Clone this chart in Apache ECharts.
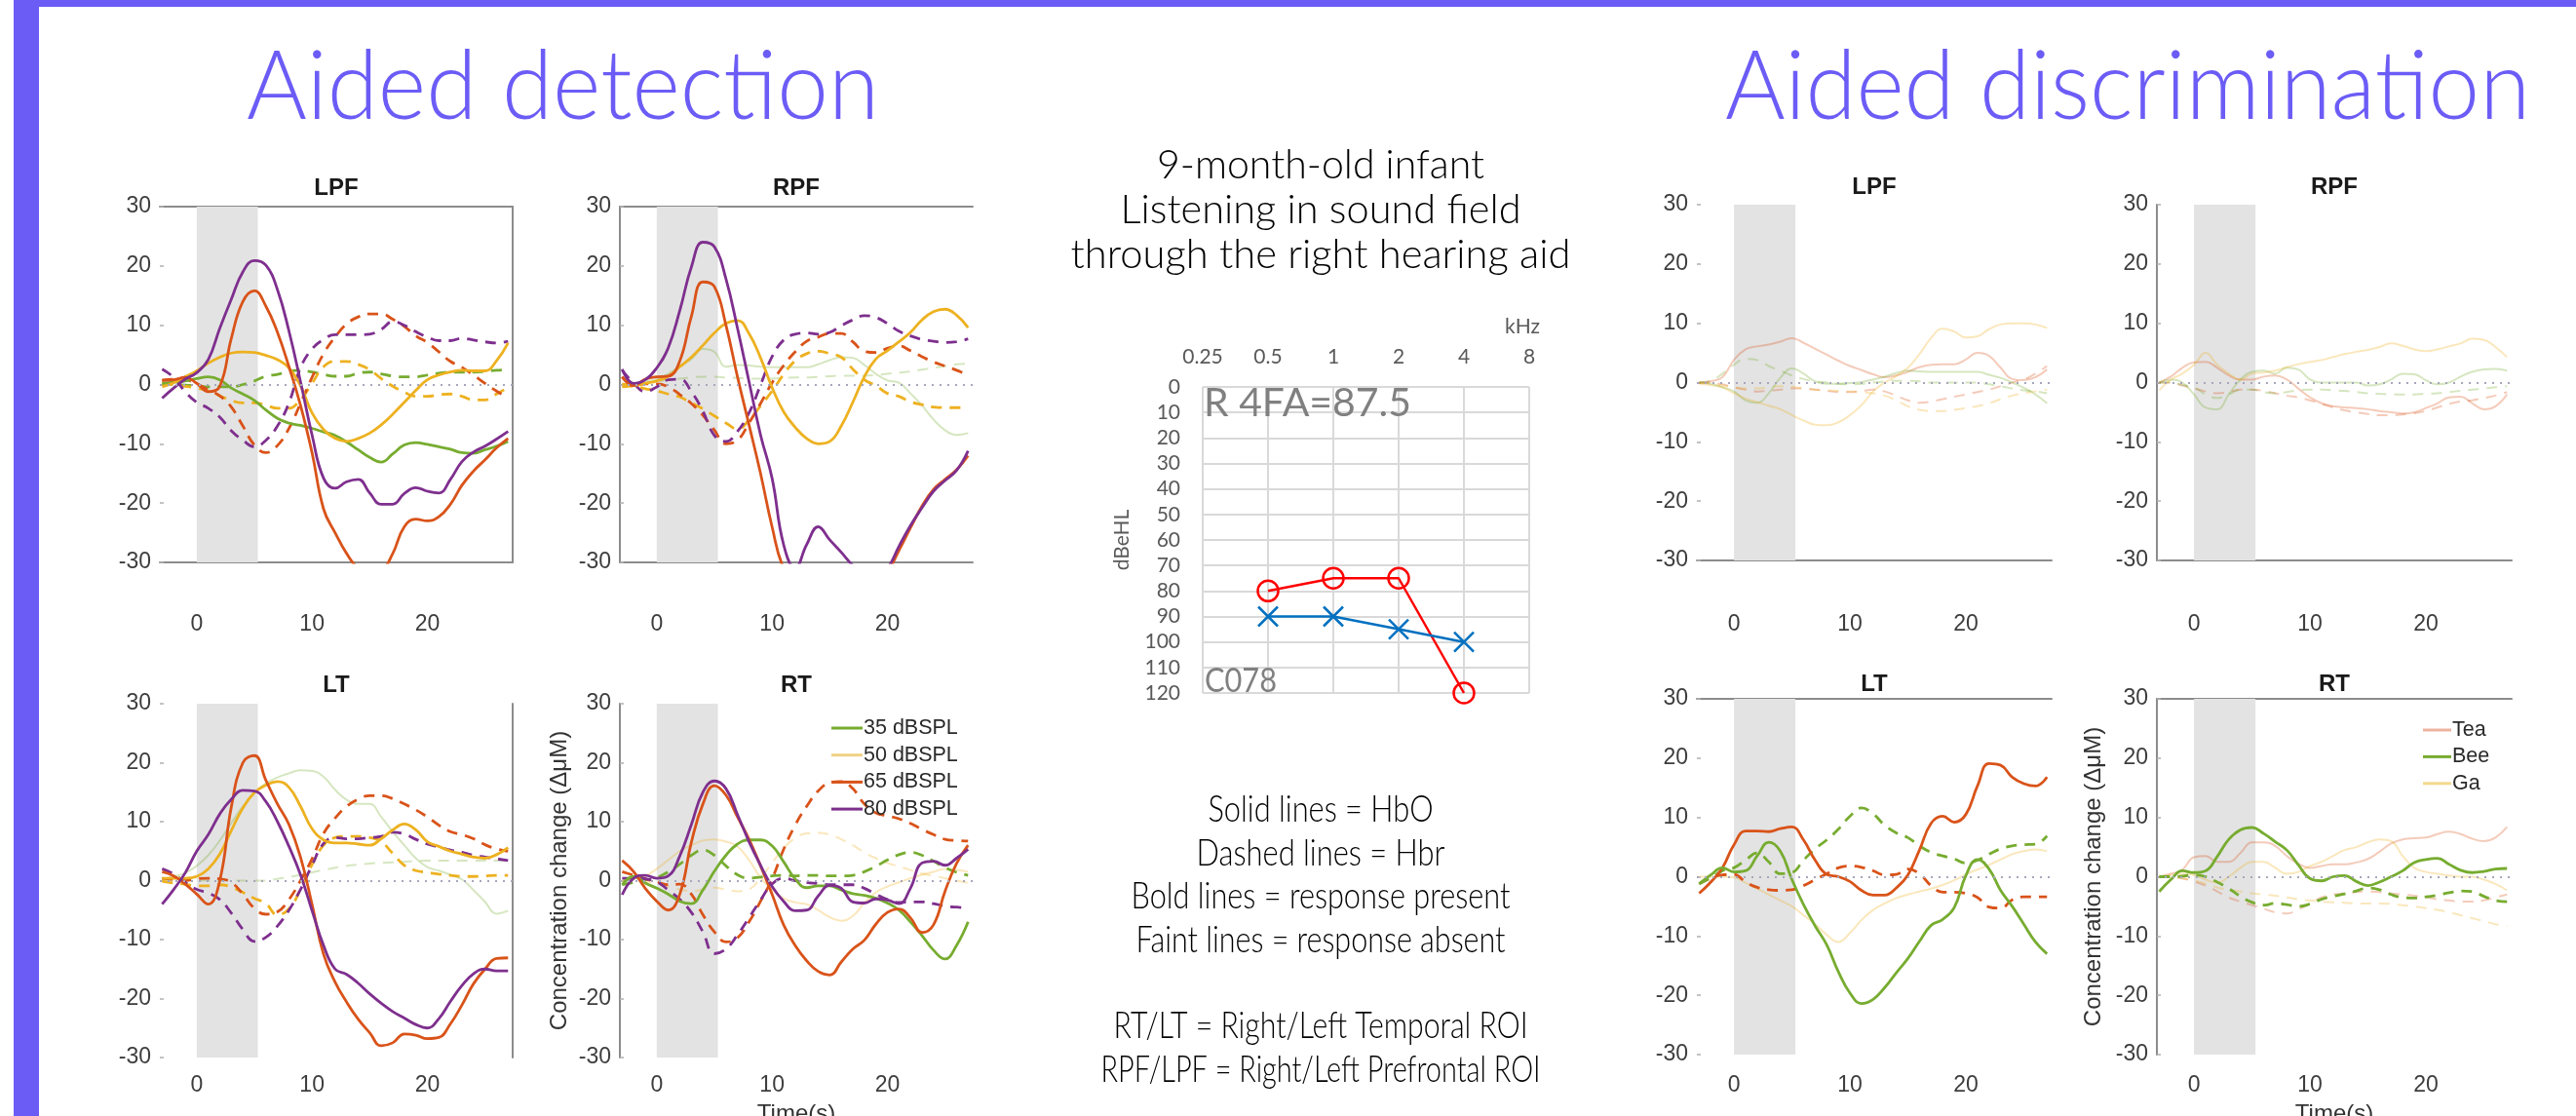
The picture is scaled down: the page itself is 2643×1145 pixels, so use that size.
<!DOCTYPE html>
<html>
<head>
<meta charset="utf-8">
<script src="https://cdn.jsdelivr.net/npm/echarts@6/dist/echarts.min.js"></script>
<style>
  html, body { margin: 0; padding: 0; background: #ffffff; }
  #chart { width: 2643px; height: 1145px; }
</style>
</head>
<body>
<div id="chart"></div>
<script>
// ---------- time base (s) and stimulus window ----------
const TIME = [-3,-2,-1,0,1,2,3,4,5,6,7,8,9,10,11,12,13,14,15,16,17,18,19,20,21,22,23,24,25,26,27];
const STIM = [0, 5.3];
const X_TICKS = [0, 10, 20];

// ---------- Aided detection: HbO (solid) / HbR (dashed), per level ----------
const D_LPF_35_HBO = [0.2,0.4,0.6,1,1.3,0.8,-0.6,-1.6,-2.7,-4.3,-5.7,-6.5,-6.9,-7.4,-8,-8.6,-9.7,-11,-12.3,-13.1,-11.7,-10.2,-9.8,-10.1,-10.5,-10.9,-11.5,-11.6,-11,-10.4,-9.6];
const D_LPF_50_HBO = [-0.4,0.3,1.3,2.3,3.6,4.6,5.3,5.5,5.4,4.9,4.2,2.8,-0.2,-4.8,-7.6,-9.1,-9.6,-9.1,-8.2,-6.8,-5,-3,-1,0.8,1.6,2.1,2.4,2.3,2.3,4,7];
const D_LPF_65_HBO = [0.7,0.8,1.2,0.2,-1.2,-0.3,7.8,14,15.8,13.2,8.8,3,-3.5,-11.5,-21,-25,-28.5,-31,-32,-31.5,-28.5,-24,-22.7,-23,-22.3,-20.2,-17,-14.6,-12.7,-10.7,-9.1];
const D_LPF_80_HBO = [-2.3,-0.6,0.9,2,4.2,9.5,14.4,19,20.9,20.1,16,9,0.5,-8.5,-15.8,-17.5,-16.4,-16,-18.3,-20.2,-20.2,-18.4,-17.4,-18,-18.3,-16,-13,-11.4,-10.4,-9.2,-7.9];
const D_LPF_35_HBR = [0.1,0,-0.1,-0.2,-0.4,-0.4,-0.4,0,0.6,1.4,1.7,2.2,2.4,2.1,1.7,1.4,1.4,1.9,2.1,1.8,1.4,1.3,1.3,1.6,1.9,2.1,2.1,2.1,2.2,2.4,2.5];
const D_LPF_50_HBR = [0.2,0,-0.3,-0.6,-1.1,-1.9,-2.7,-3.1,-3.1,-3.5,-4,-4,-2.5,0.2,3,3.9,3.9,3.4,2.5,1,-0.3,-1.3,-2,-2,-1.7,-1.6,-2,-2.6,-2.6,-1.6,-0.5];
const D_LPF_65_HBR = [0.7,0.9,0.8,0.1,-0.9,-1.9,-3.8,-7,-10.2,-11.5,-10.3,-7.4,-3.2,1.2,5.2,8,10.2,11.4,11.9,11.9,11,9.8,8.2,7.1,5.5,3.9,2.9,1.6,0.2,-1.1,-2.2];
const D_LPF_80_HBR = [2.6,1.2,-1.2,-3,-4,-5.5,-7.8,-9.4,-10.5,-9.4,-7,-3.1,2.8,6,7.6,8.4,8.4,8.4,8.5,9.3,10.6,10,8.9,8,7.4,7.4,7.8,7.5,7.2,7,7.3];

const D_RPF_35_HBO = [0,0.2,0.5,0.9,1.8,3.1,4.3,6,5.5,3,3.3,3.2,3,2.9,2.9,2.9,2.9,3.4,4.1,4.6,4.5,3.3,1.8,0.7,0.3,-1.5,-3.5,-5.9,-7.7,-8.5,-8.2];
const D_RPF_50_HBO = [-0.4,-0.2,0.2,0.6,1.4,3,4.6,6.6,8.7,10.3,10.8,8.6,4.5,-0.5,-4.6,-7.2,-9.1,-10,-9.6,-7,-3,1.3,4.3,5.7,7.2,8.8,10.9,12.3,12.7,11.7,9.6];
const D_RPF_65_HBO = [1.3,-0.2,0.9,1.3,1.4,4,11.5,17.3,16.5,10,1.3,-6.8,-15,-24,-31,-33,-33,-33,-33,-33,-33,-33,-33,-31.5,-28,-24.2,-20.5,-17.7,-16,-14.4,-12];
const D_RPF_80_HBO = [2.6,0.2,0.8,2.8,6.2,12.5,19.8,24,23.2,17.8,9.5,0.5,-8.5,-15.8,-27,-31,-27,-24,-26.2,-28.3,-30.5,-32,-32.5,-31,-27.3,-23.8,-20.8,-18,-16.2,-14.5,-11.2];
const D_RPF_35_HBR = [0,0,0.2,0.5,0.8,1,1.2,1.3,1.3,1.2,1.1,1,1,1,1.1,1.2,1.2,1.3,1.4,1.5,1.5,1.5,1.6,1.8,2,2.2,2.5,2.8,3.1,3.4,3.5];
const D_RPF_50_HBR = [0.1,-0.3,-0.7,-1.1,-1.6,-2.1,-3.1,-4.1,-5.3,-6.5,-7.5,-6,-3.6,-1.1,1.7,4,5.2,5.6,5.2,4.6,2.6,0.8,-0.2,-1.5,-2,-2.9,-3.4,-3.8,-3.9,-3.9,-3.9];
const D_RPF_65_HBR = [1.3,-0.1,0.1,0.1,-0.4,-1.7,-3.2,-5.2,-7.7,-10,-9.4,-6.5,-3.2,0.3,3.2,5.5,7.3,8,8.6,8.6,7.2,5.6,5.4,6.1,6.5,5.7,4.7,3.8,3.1,2.4,1.6];
const D_RPF_80_HBR = [2.4,0.2,-1.2,-0.4,0.8,0.9,-1.2,-4.5,-8.6,-9.6,-7.9,-4.8,-0.1,4.7,7.5,8.5,8.7,8.5,8.8,9.9,10.9,11.6,11.3,10.3,9,8.2,7.6,7.3,7.1,7.2,7.7];

const D_LT_35_HBO = [0.2,0.7,1.3,2.5,4.3,6.8,9.8,12.6,14.9,16.5,17.5,18.2,18.7,18.6,17.6,15.4,13.7,13,13,10.8,8.3,6,3.8,2.3,1.7,1,0.2,-1.6,-3.6,-5.6,-5.1];
const D_LT_50_HBO = [0.4,0.4,0.4,0.7,2,4.5,8.5,12.3,14.9,16.2,16.8,15.8,12.6,8.8,6.9,6.4,6.4,6.2,6,7.1,8.6,9.6,8.6,6.6,5.8,5,4.5,4,3.8,4.4,5.6];
const D_LT_65_HBO = [1.5,0.8,-0.6,-2.3,-4,0,12.5,20,21.2,17,13,9.5,4,-4,-12.5,-17.2,-20.6,-23.5,-25.8,-28,-27.5,-26,-26.2,-26.8,-26.6,-24.3,-21.1,-17.5,-15,-13.2,-13.1];
const D_LT_80_HBO = [-4,-1.5,1.3,5,7.8,11.3,13.8,15.3,15.2,13.4,10,5.8,1,-5.1,-11,-15,-15.9,-17.4,-19.2,-20.8,-22.2,-23.3,-24.4,-25,-23.4,-20.5,-17.8,-15.8,-15,-15.3,-15.3];
const D_LT_35_HBR = [0,0,0,0,0,0,0,0,0,0,0.3,0.6,1,1.4,1.8,2.2,2.5,2.7,2.9,3,3.1,3.2,3.3,3.4,3.4,3.4,3.4,3.4,3.4,3.4,3.4];
const D_LT_50_HBR = [-0.1,-0.4,-0.6,-0.9,-0.9,-0.7,-1.1,-2,-3,-3.9,-5.8,-4.8,-1.5,2.7,6,7.3,7.5,7.5,7.3,6.6,4.6,2.6,1.7,1.4,1.1,0.9,0.7,0.7,0.8,0.9,0.9];
const D_LT_65_HBR = [0.4,0.2,0,0.3,0.4,0.3,-0.3,-2.3,-4.7,-5.7,-5.3,-3.2,0,3.7,8,10.6,12.6,13.8,14.4,14.4,13.9,13,12,10.8,9.4,8.3,7.8,7.1,6.1,5.4,5];
const D_LT_80_HBR = [2,1.1,-0.3,-1.5,-2.1,-3.2,-5.5,-8.3,-10.3,-9.6,-7.7,-5,-1.5,2.6,6.3,7.3,7.1,7.1,7.3,7.5,8.2,7.9,7,6.2,5.7,5.2,4.8,4.3,4,3.7,3.4];

const D_RT_35_HBO = [-0.7,0.7,-0.4,-1.3,-2.3,-3.5,-3.9,-1.6,1.6,4.3,6.2,6.9,6.9,5.9,3.2,0.3,-1.2,-0.9,-0.9,-1.6,-2.2,-2.5,-3,-3.8,-5,-7,-9.3,-11.8,-13.3,-11,-7];
const D_RT_50_HBO = [0,0.3,0.8,2,3.5,5,6,6.8,7,6.6,5.8,3.5,0.5,-1.5,-3,-3.7,-4,-5,-6.2,-6.8,-6,-3.8,-2,-1,-0.3,0.4,1,1.5,2,1.8,1.5];
const D_RT_65_HBO = [3.4,1.5,-1.3,-3.5,-5,-2.3,6.5,13,16.1,14.5,10.8,7,2.5,-2.3,-7.5,-11,-13.6,-15.4,-16,-13.8,-11.6,-10.1,-7.4,-5.4,-4.8,-6.3,-8.8,-7.5,-1.8,2.9,6];
const D_RT_80_HBO = [-2.4,0.4,0.9,0.4,0.8,4.2,9.5,15,16.9,15.6,11.2,6.6,2.6,-1,-3.5,-5.1,-5,-2.6,-0.8,-1.3,-3.6,-3.8,-3.1,-3.3,-3.9,-1.3,3,3.3,2.6,3.8,5.3];
const D_RT_35_HBR = [-0.7,-0.3,0.1,0.5,1.5,2.8,4.3,5.2,4.3,2.5,1,0.4,0.6,0.8,0.9,0.8,0.9,0.9,0.8,0.8,0.9,1.5,2.4,3.5,4.4,4.8,4.3,3.3,2.2,1.4,0.9];
const D_RT_50_HBR = [0,0,-0.2,-0.5,-1,-1.5,-1.8,-1.5,-1.2,-1.5,-1.8,-1.5,0.5,3,5.5,7.2,8,8.1,7.8,7,6,4.8,3.8,3,2.4,1.8,1.2,0.8,0.4,0,-0.4];
const D_RT_65_HBR = [1.5,0.9,0.3,-0.2,-0.7,-0.6,-2.3,-5.8,-8.7,-10.4,-9.7,-7,-3.5,0.3,5.3,9.4,12.6,15.2,16.6,16.8,15.6,13,11.5,11,10.5,9.7,8.7,7.8,7,6.8,6.7];
const D_RT_80_HBR = [0.4,0.4,0.3,-0.2,-1.6,-3.2,-5.4,-8.7,-12.4,-11.6,-9.2,-6.3,-3.3,-0.6,0.4,0,-0.3,-0.5,-0.7,-0.7,-0.7,-1.3,-2.3,-3.2,-3.7,-3.6,-3.6,-3.9,-4.3,-4.5,-4.6];

// ---------- Aided discrimination: HbO / HbR per syllable ----------
const C_LPF_TEA_HBO = [0,0.2,0.9,3.8,5.6,6.1,6.4,6.9,7.5,6.7,5.7,4.7,3.7,2.8,2.1,1.4,0.9,1.2,1.8,2.6,3,3.1,3.1,3.9,5,4.5,2.5,0.6,0.4,0.9,2.2];
const C_LPF_BEE_HBO = [0,-0.2,-0.8,-1.5,-3,-3.4,-1.8,0.8,2.4,1.5,0.2,-0.2,-0.2,-0.1,0.1,0.5,1,1.6,2,1.9,1.8,1.8,1.8,1.8,1.8,1.3,0.8,0,-0.9,-2,-3.5];
const C_LPF_GA_HBO  = [-0.2,-0.4,-0.8,-1.8,-2.7,-3.3,-3.9,-4.5,-5.5,-6.4,-7.1,-7.2,-6.7,-5.5,-3.8,-1.5,0,1.1,2.5,4.8,7.5,9.1,8.6,7.6,7.8,9,9.8,10,10,9.8,9.2];
const C_LPF_TEA_HBR = [0,0,-0.3,-0.8,-1.2,-1.5,-1.4,-1.2,-1,-1,-1.2,-1.4,-1.6,-1.6,-1.4,-1.2,-1.5,-2.2,-3,-3.4,-3.2,-2.8,-2.4,-2,-1.6,-1.2,-0.6,0,0.5,1.5,2.8];
const C_LPF_BEE_HBR = [0,0.3,1.5,3,4,3.8,2.8,2,1.2,0.6,0.2,0,-0.2,-0.3,-0.2,0,0.2,0.3,0.3,0.2,0,0,0,0,0,-0.3,-0.6,-1,-1.3,-1.5,-1.8];
const C_LPF_GA_HBR  = [0,-0.2,-0.5,-0.8,-1,-1,-0.8,-0.6,-0.7,-1,-1.2,-1.3,-1.4,-1.5,-1.6,-1.8,-2.2,-3,-4,-4.6,-4.8,-4.8,-4.6,-4.3,-4,-3.5,-2.8,-2.2,-1.8,-1.5,-1.2];

const C_RPF_TEA_HBO = [0,1,2.5,3.4,3.5,2.5,1.2,0.5,0.5,1,1.2,0.5,-1,-2.5,-3.5,-4,-4.2,-4.3,-4.5,-4.8,-5,-5.2,-5,-4.3,-3.5,-2.5,-2.4,-3.5,-4.5,-4,-2];
const C_RPF_BEE_HBO = [0,0.5,0,-2,-4.2,-4.5,-2,0.5,1.8,2,1.5,2.5,2.2,0.5,0,0,0,0,-0.5,-0.3,0.5,1.5,1.4,0.4,-0.3,0,1,1.8,2.2,2.3,2];
const C_RPF_GA_HBO  = [-1.3,0.5,1.5,3,5,3,1.5,0.5,1.5,1.7,2,2.6,3.1,3.5,3.8,4.3,4.8,5.2,5.5,6,6.6,6.2,5.6,5.3,5.6,6.1,6.6,7.4,7.2,6,4.3];
const C_RPF_TEA_HBR = [0,0,-0.5,-1,-1.5,-1.8,-1.6,-1.2,-1.2,-1.4,-1.8,-2.2,-2.5,-3,-3.6,-4.2,-4.7,-5,-5.3,-5.5,-5.5,-5.4,-5.2,-4.8,-4.2,-3.6,-3.2,-3,-2.6,-2.2,-1.6];
const C_RPF_BEE_HBR = [0,0,-0.4,-0.8,-2,-2.6,-2,-1.2,-1.2,-1.6,-1.8,-1.6,-1.3,-1.2,-1.2,-1.3,-1.4,-1.6,-1.8,-1.9,-2,-2,-2,-1.9,-1.8,-1.6,-1.4,-1.2,-1,-0.8,-0.6];

const C_LT_TEA_HBO = [-2.8,-0.9,1.5,5.4,7.7,7.7,7.6,8.1,8.4,6.2,2.8,0.4,0,-0.8,-2.3,-3.1,-3.1,-1.9,0.3,4.5,9,10.2,9.2,10.5,15.3,19.1,18.8,16.8,15.7,15.3,16.8];
const C_LT_BEE_HBO = [-1.2,0.3,1.5,0.8,1,3.5,5.8,4.3,-0.5,-4.7,-8.3,-11.5,-16,-19.6,-21.4,-20.7,-18.7,-16.2,-13.8,-10.9,-8.2,-7.2,-5.2,0.2,2.9,1.3,-2.3,-5,-8,-11,-13];
const C_LT_GA_HBO  = [0,0,0,-0.1,-1,-2,-3,-4,-5,-6.5,-8,-9.8,-11,-9.5,-7.3,-5.6,-4.5,-3.6,-3,-2.5,-2,-1.4,-0.6,0.4,1.2,2,2.9,3.8,4.3,4.6,4.3];
const C_LT_TEA_HBR = [-1.2,-0.2,0.3,0.4,-0.9,-1.8,-2.2,-2.3,-2.2,-1.5,-0.5,0.5,1.5,1.8,1.6,1,0.3,0.4,1.3,0.5,-1.5,-2.6,-2.6,-2.8,-3.5,-5.1,-5.3,-3.9,-3.4,-3.4,-3.4];
const C_LT_BEE_HBR = [-1.2,-0.2,1,1.5,2.8,4,2.5,0.5,0.7,2.8,4.7,6.2,8,10.2,11.6,10.6,8.7,7.4,6.6,5.2,4.1,3.5,3,2.3,2.8,3.8,4.7,5.2,5.4,5.5,6.9];

const C_RT_TEA_HBO = [0,0.5,1.2,3.3,3.5,2.5,2.5,4,5.8,5.8,5.2,3.5,2.2,1.5,1.8,2.1,2.1,2.4,3,4.2,5.6,6.3,6.5,6.6,7.2,7.6,7.2,6.4,6,6.6,8.4];
const C_RT_BEE_HBO = [-2.5,-0.5,1,0.7,1,3.4,6.3,7.9,8.3,7.3,5.9,4.5,2,-0.3,-0.7,0,0.2,-0.8,-1.5,-0.9,0,1,2.4,2.9,3.1,2.1,1.1,0.7,0.9,1.3,1.4];
const C_RT_GA_HBO  = [0,0.3,0.5,0.3,-0.5,-1,0,1.5,2.5,2.5,1.5,0.5,0.8,1.8,2.5,3.5,4.5,5,5.8,6.3,6,3.5,1.5,0.8,0.5,0.2,0,0,-0.5,-1.2,-2.3];
const C_RT_TEA_HBR = [0,0,-0.3,-0.8,-1.5,-2.5,-3.5,-4.2,-4.8,-5.4,-6,-6.2,-5.5,-4.5,-3.5,-3,-2.8,-2.6,-2.5,-2.6,-2.8,-3,-3.2,-3.5,-3.8,-4,-4.2,-4.2,-4,-3.5,-3];
const C_RT_BEE_HBR = [0,0,0.1,0.3,0,-0.9,-2,-3.3,-4.3,-4.8,-4.5,-4.7,-5,-4.6,-3.8,-3.3,-2.9,-2.4,-1.9,-2.2,-3,-3.5,-3.6,-3.4,-3.1,-2.7,-2.4,-2.5,-3.3,-4,-4.2];
const C_RT_GA_HBR  = [0,0,-0.3,-0.6,-1.2,-1.8,-2.2,-2.5,-2.8,-3,-3.2,-3.5,-3.8,-4,-4.2,-4.3,-4.4,-4.5,-4.5,-4.5,-4.6,-4.8,-5,-5.3,-5.6,-6,-6.5,-7,-7.5,-8,-8.3];

// ---------- audiogram ----------
const AUD_FREQ  = [0.5, 1, 2, 4];      // kHz
const AUD_RIGHT = [80, 75, 75, 120];   // dB eHL, right ear (O)
const AUD_LEFT  = [90, 90, 95, 100];   // dB eHL, left ear (X)

// ---------- text ----------
const HEADINGS = ['Aided detection', 'Aided discrimination'];
const INFO_LINES = ['9-month-old infant', 'Listening in sound field', 'through the right hearing aid'];
const KEY_LINES = ['Solid lines = HbO', 'Dashed lines = Hbr', 'Bold lines = response present',
                   'Faint lines = response absent', 'RT/LT = Right/Left Temporal ROI',
                   'RPF/LPF = Right/Left Prefrontal ROI'];
const DET_LEVELS = ['35 dBSPL', '50 dBSPL', '65 dBSPL', '80 dBSPL'];
const SYLLABLES = ['Tea', 'Bee', 'Ga'];

// ---------- styling ----------
const GREEN = '#77AC30', YELLOW = '#EDB120', ORANGE = '#D95319', PURPLE = '#7E2F8E';
const ACCENT = '#6c5cf6';
const AXIS_FONT = 'Liberation Sans';
const LIGHT_FONT = 'Lato';

function L(values, color, name, dashed, faint) {
  return { values, color, name, dashed: !!dashed, faint: !!faint };
}

const PANELS = [
  { title: 'LPF', left: 164, top: 212, width: 362, height: 365, titleY: 193, edges: ['top', 'right', 'bottom'], xMargin: 52,
    lines: [
      L(D_LPF_35_HBR, GREEN, DET_LEVELS[0], true), L(D_LPF_50_HBR, YELLOW, DET_LEVELS[1], true),
      L(D_LPF_65_HBR, ORANGE, DET_LEVELS[2], true), L(D_LPF_80_HBR, PURPLE, DET_LEVELS[3], true),
      L(D_LPF_35_HBO, GREEN, DET_LEVELS[0]), L(D_LPF_50_HBO, YELLOW, DET_LEVELS[1]),
      L(D_LPF_65_HBO, ORANGE, DET_LEVELS[2]), L(D_LPF_80_HBO, PURPLE, DET_LEVELS[3])
    ] },
  { title: 'RPF', left: 636, top: 212, width: 362, height: 365, titleY: 193, edges: ['left', 'top', 'bottom'], xMargin: 52,
    lines: [
      L(D_RPF_35_HBR, GREEN, DET_LEVELS[0], true, true), L(D_RPF_35_HBO, GREEN, DET_LEVELS[0], false, true),
      L(D_RPF_50_HBR, YELLOW, DET_LEVELS[1], true), L(D_RPF_65_HBR, ORANGE, DET_LEVELS[2], true),
      L(D_RPF_80_HBR, PURPLE, DET_LEVELS[3], true),
      L(D_RPF_50_HBO, YELLOW, DET_LEVELS[1]), L(D_RPF_65_HBO, ORANGE, DET_LEVELS[2]), L(D_RPF_80_HBO, PURPLE, DET_LEVELS[3])
    ] },
  { title: 'LT', left: 164, top: 722, width: 362, height: 363, titleY: 703, edges: ['right'], xMargin: 17,
    lines: [
      L(D_LT_35_HBR, GREEN, DET_LEVELS[0], true, true), L(D_LT_35_HBO, GREEN, DET_LEVELS[0], false, true),
      L(D_LT_50_HBR, YELLOW, DET_LEVELS[1], true), L(D_LT_65_HBR, ORANGE, DET_LEVELS[2], true),
      L(D_LT_80_HBR, PURPLE, DET_LEVELS[3], true),
      L(D_LT_50_HBO, YELLOW, DET_LEVELS[1]), L(D_LT_65_HBO, ORANGE, DET_LEVELS[2]), L(D_LT_80_HBO, PURPLE, DET_LEVELS[3])
    ] },
  { title: 'RT', left: 636, top: 722, width: 362, height: 363, titleY: 703, edges: ['left'], xMargin: 17,
    yName: 'Concentration change (\u0394\u03bcM)', yNameGap: 50, xName: 'Time(s)', xNameGap: 46,
    legend: { names: DET_LEVELS, colors: [GREEN, '#f1d185', ORANGE, PURPLE], x: 853, y: 747, lineW: 32, step: 27.7 },
    lines: [
      L(D_RT_50_HBR, YELLOW, DET_LEVELS[1], true, true), L(D_RT_50_HBO, YELLOW, DET_LEVELS[1], false, true),
      L(D_RT_35_HBR, GREEN, DET_LEVELS[0], true), L(D_RT_65_HBR, ORANGE, DET_LEVELS[2], true),
      L(D_RT_80_HBR, PURPLE, DET_LEVELS[3], true),
      L(D_RT_35_HBO, GREEN, DET_LEVELS[0]), L(D_RT_65_HBO, ORANGE, DET_LEVELS[2]), L(D_RT_80_HBO, PURPLE, DET_LEVELS[3])
    ] },
  { title: 'LPF', left: 1741, top: 210, width: 364, height: 365, titleY: 192, edges: ['bottom'], xMargin: 54,
    lines: [
      L(C_LPF_TEA_HBR, ORANGE, SYLLABLES[0], true, true), L(C_LPF_BEE_HBR, GREEN, SYLLABLES[1], true, true),
      L(C_LPF_GA_HBR, YELLOW, SYLLABLES[2], true, true),
      L(C_LPF_TEA_HBO, ORANGE, SYLLABLES[0], false, true), L(C_LPF_BEE_HBO, GREEN, SYLLABLES[1], false, true),
      L(C_LPF_GA_HBO, YELLOW, SYLLABLES[2], false, true)
    ] },
  { title: 'RPF', left: 2213, top: 210, width: 364, height: 365, titleY: 192, edges: ['left', 'bottom'], xMargin: 54,
    lines: [
      L(C_RPF_TEA_HBR, ORANGE, SYLLABLES[0], true, true), L(C_RPF_BEE_HBR, GREEN, SYLLABLES[1], true, true),
      L(C_RPF_TEA_HBO, ORANGE, SYLLABLES[0], false, true), L(C_RPF_BEE_HBO, GREEN, SYLLABLES[1], false, true),
      L(C_RPF_GA_HBO, YELLOW, SYLLABLES[2], false, true)
    ] },
  { title: 'LT', left: 1741, top: 717, width: 364, height: 365, titleY: 702, edges: ['top'], xMargin: 20,
    lines: [
      L(C_LT_GA_HBO, YELLOW, SYLLABLES[2], false, true),
      L(C_LT_TEA_HBR, ORANGE, SYLLABLES[0], true), L(C_LT_BEE_HBR, GREEN, SYLLABLES[1], true),
      L(C_LT_TEA_HBO, ORANGE, SYLLABLES[0]), L(C_LT_BEE_HBO, GREEN, SYLLABLES[1])
    ] },
  { title: 'RT', left: 2213, top: 717, width: 364, height: 365, titleY: 702, edges: ['left', 'top'], xMargin: 20,
    yName: 'Concentration change (\u0394\u03bcM)', yNameGap: 53, xName: 'Time(s)', xNameGap: 49,
    legend: { names: SYLLABLES, colors: ['#efb4a0', GREEN, '#f3d98e'], x: 2486, y: 749, lineW: 29, step: 27.4 },
    lines: [
      L(C_RT_TEA_HBR, ORANGE, SYLLABLES[0], true, true), L(C_RT_GA_HBR, YELLOW, SYLLABLES[2], true, true),
      L(C_RT_TEA_HBO, ORANGE, SYLLABLES[0], false, true), L(C_RT_GA_HBO, YELLOW, SYLLABLES[2], false, true),
      L(C_RT_BEE_HBR, GREEN, SYLLABLES[1], true), L(C_RT_BEE_HBO, GREEN, SYLLABLES[1])
    ] }
];

const X_MIN = -3.2, X_MAX = 27.4;
const EDGE = { color: '#8c8c8c', width: 2 };
const LABEL_COLOR = '#3d3d3d';

const grids = [], xAxes = [], yAxes = [], series = [];

PANELS.forEach((p, i) => {
  grids.push({ left: p.left, top: p.top, width: p.width, height: p.height, containLabel: false, outerBoundsMode: 'none' });
  const has = e => p.edges.indexOf(e) >= 0;
  xAxes.push({
    gridIndex: i, type: 'value', min: X_MIN, max: X_MAX, position: 'bottom',
    axisLine: { show: has('bottom'), onZero: false, lineStyle: EDGE },
    axisTick: { show: false }, splitLine: { show: false },
    axisLabel: { customValues: X_TICKS, fontSize: 23, color: LABEL_COLOR, fontFamily: AXIS_FONT, margin: p.xMargin },
    name: p.xName || '', nameLocation: 'middle', nameGap: p.xNameGap || 0,
    nameTextStyle: { fontSize: 24, color: '#333', fontFamily: AXIS_FONT }
  });
  xAxes.push({
    gridIndex: i, type: 'value', min: X_MIN, max: X_MAX, position: 'top',
    axisLine: { show: has('top'), onZero: false, lineStyle: EDGE },
    axisTick: { show: false }, splitLine: { show: false }, axisLabel: { show: false }
  });
  yAxes.push({
    gridIndex: i, type: 'value', min: -30, max: 30, interval: 10, position: 'left',
    axisLine: { show: has('left'), onZero: false, lineStyle: EDGE },
    axisTick: { show: true, inside: true, length: 4, lineStyle: { color: '#b0b0b0', width: 1.5 } },
    splitLine: { show: false },
    axisLabel: { fontSize: 23, color: LABEL_COLOR, fontFamily: AXIS_FONT, margin: 9 },
    name: p.yName || '', nameLocation: 'middle', nameGap: p.yNameGap || 0, nameRotate: 90,
    nameTextStyle: { fontSize: 24, color: '#333', fontFamily: AXIS_FONT }
  });
  yAxes.push({
    gridIndex: i, type: 'value', min: -30, max: 30, interval: 10, position: 'right',
    axisLine: { show: has('right'), onZero: false, lineStyle: EDGE },
    axisTick: { show: false }, splitLine: { show: false }, axisLabel: { show: false }
  });

  // stimulus window and zero reference
  series.push({
    type: 'line', xAxisIndex: 2 * i, yAxisIndex: 2 * i, data: [], silent: true, z: 1, animation: false,
    markArea: { silent: true, itemStyle: { color: '#e3e3e3' }, data: [[{ xAxis: STIM[0] }, { xAxis: STIM[1] }]] },
    markLine: { silent: true, symbol: ['none', 'none'], label: { show: false },
      lineStyle: { color: '#a7a7bb', width: 2, type: [2, 6] }, data: [{ yAxis: 0 }] }
  });

  p.lines.forEach(ln => {
    series.push({
      type: 'line', name: ln.name, xAxisIndex: 2 * i, yAxisIndex: 2 * i,
      data: TIME.map((t, k) => [t, ln.values[k]]),
      smooth: 0.45, symbol: 'none', showSymbol: false, silent: true, animation: false, clip: true,
      lineStyle: { color: ln.color, width: ln.faint ? 2 : 2.8, type: ln.dashed ? [11, 8] : 'solid', opacity: ln.faint ? 0.3 : 1 },
      itemStyle: { color: ln.color },
      z: ln.faint ? 2 : 3
    });
  });
});

// audiogram
const AUD = PANELS.length;
grids.push({ left: 1234, top: 397, width: 335, height: 314, containLabel: false, outerBoundsMode: 'none' });
xAxes.push({
  gridIndex: AUD, type: 'log', logBase: 2, min: 0.25, max: 8, splitNumber: 5, position: 'top',
  axisLine: { show: false }, axisTick: { show: false },
  axisLabel: { fontSize: 21, color: '#595959', fontFamily: LIGHT_FONT, margin: 20 },
  splitLine: { show: true, lineStyle: { color: '#d9d9d9', width: 2 } }
});
yAxes.push({
  gridIndex: AUD, type: 'value', inverse: true, min: 0, max: 120, interval: 10,
  axisLine: { show: false }, axisTick: { show: false },
  axisLabel: { fontSize: 21, color: '#595959', fontFamily: LIGHT_FONT, margin: 23 },
  splitLine: { show: true, lineStyle: { color: '#d9d9d9', width: 2 } },
  name: 'dBeHL', nameLocation: 'middle', nameGap: 72, nameRotate: 90,
  nameTextStyle: { fontSize: 21, color: '#595959', fontFamily: LIGHT_FONT }
});
series.push({
  type: 'line', name: 'Right ear', xAxisIndex: 2 * AUD, yAxisIndex: 2 * AUD,
  data: AUD_FREQ.map((f, k) => [f, AUD_RIGHT[k]]), animation: false, silent: true, z: 4,
  lineStyle: { color: '#ff0000', width: 2.5 },
  symbol: 'circle', symbolSize: 21, showSymbol: true,
  itemStyle: { color: 'rgba(0,0,0,0)', borderColor: '#ff0000', borderWidth: 2.5 }
});
series.push({
  type: 'line', name: 'Left ear', xAxisIndex: 2 * AUD, yAxisIndex: 2 * AUD,
  data: AUD_FREQ.map((f, k) => [f, AUD_LEFT[k]]), animation: false, silent: true, z: 4,
  lineStyle: { color: '#0070c0', width: 2.5 },
  symbol: 'path://M0,0L10,10M10,0L0,10', symbolSize: 20, showSymbol: true,
  itemStyle: { color: 'none', borderColor: '#0070c0', borderWidth: 2.5 }
});

// ---------- free text ----------
const measureCtx = document.createElement('canvas').getContext('2d');
function fit(str, size, weight, family, target) {
  measureCtx.font = weight + ' ' + size + 'px "' + family + '"';
  return target / measureCtx.measureText(str).width;
}
function text(str, x, y, o) {
  return {
    type: 'text', x: x, y: y, silent: true, z: 10,
    scaleX: o.target ? fit(str, o.size, o.weight || 'normal', o.family, o.target) : 1,
    style: { text: str, fontSize: o.size, fontWeight: o.weight || 'normal', fontFamily: o.family,
             fill: o.color, align: o.align || 'center', verticalAlign: 'middle' }
  };
}

const graphics = [];
// frame
graphics.push({ type: 'rect', silent: true, z: 0, shape: { x: 14, y: 0, width: 26, height: 1145 }, style: { fill: ACCENT } });
graphics.push({ type: 'rect', silent: true, z: 0, shape: { x: 14, y: 0, width: 2629, height: 7 }, style: { fill: ACCENT } });
// section headings
[[577.6, 649], [2183, 826]].forEach((pos, k) => {
  graphics.push(text(HEADINGS[k], pos[0], 90, { size: 98, weight: 300, family: LIGHT_FONT, color: ACCENT, target: pos[1] }));
});
// subject description
[[169, 336], [215.5, 411], [261, 513]].forEach((pos, k) => {
  graphics.push(text(INFO_LINES[k], 1355, pos[0], { size: 42, weight: 300, family: LIGHT_FONT, color: '#000', target: pos[1] }));
});
// line-style key
[[831.5, 231], [876.5, 255], [920, 389], [965, 379], [1053, 425], [1098, 451]].forEach((pos, k) => {
  graphics.push(text(KEY_LINES[k], 1355, pos[0], { size: 37, weight: 300, family: LIGHT_FONT, color: '#000', target: pos[1] }));
});
// audiogram annotations
graphics.push(text('kHz', 1562, 335, { size: 21, family: LIGHT_FONT, color: '#595959' }));
graphics.push(text('R 4FA=87.5', 1235, 414, { size: 40, family: LIGHT_FONT, color: '#808080', align: 'left', target: 213 }));
graphics.push(text('C078', 1236, 699, { size: 34, family: LIGHT_FONT, color: '#808080', align: 'left', target: 74 }));
// panel titles and legends
PANELS.forEach(p => {
  graphics.push(text(p.title, p.left + p.width / 2, p.titleY, { size: 24, weight: 'bold', family: AXIS_FONT, color: '#1a1a1a' }));
  if (p.legend) {
    const lg = p.legend;
    lg.names.forEach((nm, k) => {
      const cy = lg.y + k * lg.step;
      graphics.push({ type: 'rect', silent: true, z: 10, shape: { x: lg.x, y: cy - 1.5, width: lg.lineW, height: 3 }, style: { fill: lg.colors[k] } });
      graphics.push(text(nm, lg.x + lg.lineW + 1, cy, { size: 21.5, family: AXIS_FONT, color: '#2a2a2a', align: 'left' }));
    });
  }
});

const option = {
  backgroundColor: '#ffffff',
  animation: false,
  textStyle: { fontFamily: AXIS_FONT },
  grid: grids, xAxis: xAxes, yAxis: yAxes, series: series,
  graphic: graphics
};

const chart = echarts.init(document.getElementById('chart'), null, { renderer: 'canvas', width: 2643, height: 1145 });
chart.setOption(option);
</script>
</body>
</html>
